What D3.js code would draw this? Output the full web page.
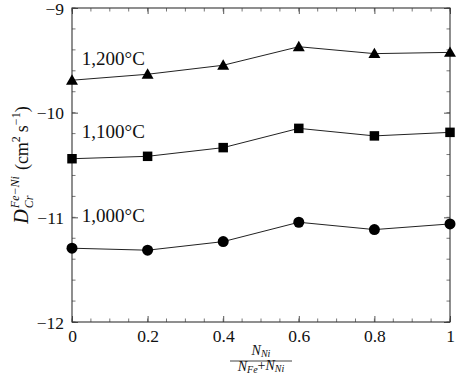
<!DOCTYPE html>
<html>
<head>
<meta charset="utf-8">
<title>D Cr</title>
<script src="https://d3js.org/d3.v7.min.js"></script>
<style>
  body { margin: 0; background: #fff; }
  text { font-family: "Liberation Serif", "DejaVu Serif", serif; fill: #111; }
</style>
</head>
<body>
<script>
  var width = 457, height = 376;
  var margin = { left: 72, right: 7, top: 8, bottom: 54 };

  // data
  var xValues  = [0, 0.2, 0.4, 0.6, 0.8, 1];
  var t1200    = [-9.69, -9.633, -9.547, -9.37, -9.436, -9.424];
  var t1100    = [-10.44, -10.417, -10.334, -10.15, -10.222, -10.188];
  var t1000    = [-11.295, -11.314, -11.232, -11.047, -11.117, -11.063];
  var seriesLabels = ["1,200\u00B0C", "1,100\u00B0C", "1,000\u00B0C"];
  var xTicks   = [0, 0.2, 0.4, 0.6, 0.8, 1];
  var yTicks   = [-12, -11, -10, -9];

  var svg = d3.select("body").append("svg")
    .attr("width", width).attr("height", height);

  var xScale = d3.scaleLinear().domain([0, 1]).range([margin.left, width - margin.right]);
  var yScale = d3.scaleLinear().domain([-12, -9]).range([height - margin.bottom, margin.top]);

  var x0 = xScale.range()[0], x1 = xScale.range()[1];
  var y0 = yScale.range()[0], y1 = yScale.range()[1];

  var xMinor = d3.range(0, 1.0001, 0.05).map(v => +v.toFixed(2));
  var yMinor = d3.range(-12, -8.999, 0.2).map(v => +v.toFixed(1));

  var tickCol = "#555";

  // bottom axis + top mirror
  var gx = svg.append("g").attr("transform", "translate(0," + y0 + ")")
    .call(d3.axisBottom(xScale).tickValues(xTicks).tickSize(-6).tickPadding(5)
      .tickFormat(d => d === 0 || d === 1 ? d3.format("d")(d) : d3.format(".1f")(d)));
  var gxt = svg.append("g").attr("transform", "translate(0," + y1 + ")")
    .call(d3.axisTop(xScale).tickValues(xTicks).tickSize(-6).tickFormat(""));
  // left axis + right mirror
  var gy = svg.append("g").attr("transform", "translate(" + x0 + ",0)")
    .call(d3.axisLeft(yScale).tickValues(yTicks).tickSize(-6).tickPadding(8)
      .tickFormat(d => "\u2212" + Math.abs(d)));
  var gyr = svg.append("g").attr("transform", "translate(" + x1 + ",0)")
    .call(d3.axisRight(yScale).tickValues(yTicks).tickSize(-6).tickFormat(""));

  [gx, gxt, gy, gyr].forEach(function (g) {
    g.select(".domain").remove();
    g.selectAll("line").attr("stroke", tickCol);
    g.selectAll("text").style("font-size", "17.5px").attr("fill", "#111");
  });
  gx.selectAll("text").attr("dy", "0.85em");
  gy.selectAll("text").attr("dy", "0.36em");

  // minor ticks
  var minor = svg.append("g").attr("stroke", tickCol).attr("stroke-width", 0.8);
  minor.selectAll(".mxb").data(xMinor).join("line")
    .attr("x1", d => xScale(d)).attr("x2", d => xScale(d)).attr("y1", y0).attr("y2", y0 - 3.5);
  minor.selectAll(".mxt").data(xMinor).join("line")
    .attr("x1", d => xScale(d)).attr("x2", d => xScale(d)).attr("y1", y1).attr("y2", y1 + 3.5);
  minor.selectAll(".myl").data(yMinor).join("line")
    .attr("y1", d => yScale(d)).attr("y2", d => yScale(d)).attr("x1", x0).attr("x2", x0 + 3.5);
  minor.selectAll(".myr").data(yMinor).join("line")
    .attr("y1", d => yScale(d)).attr("y2", d => yScale(d)).attr("x1", x1).attr("x2", x1 - 3.5);

  // frame
  svg.append("rect").attr("x", x0).attr("y", y1).attr("width", x1 - x0).attr("height", y0 - y1)
    .attr("fill", "none").attr("stroke", "#333").attr("stroke-width", 1.1);

  var line = d3.line().x((d, i) => xScale(xValues[i])).y(d => yScale(d));
  var allSeries = [t1200, t1100, t1000];
  var symbols = [d3.symbolTriangle, d3.symbolSquare, d3.symbolCircle];
  var symSizes = [62, 90, 95];

  allSeries.forEach(function (s, k) {
    svg.append("path").datum(s).attr("d", line)
      .attr("fill", "none").attr("stroke", "#222").attr("stroke-width", 1);
    svg.selectAll(".pt" + k).data(s).join("path")
      .attr("transform", (d, i) => "translate(" + xScale(xValues[i]) + "," + (yScale(d) + (k === 0 ? 1 : 0)) + ")")
      .attr("d", d3.symbol().type(symbols[k]).size(symSizes[k]))
      .attr("fill", "#000");
  });

  // series labels
  var labelY = [-9.545, -10.24, -11.044];
  svg.selectAll(".slab").data(seriesLabels).join("text")
    .attr("x", xScale(0.026)).attr("y", (d, i) => yScale(labelY[i]))
    .style("font-size", "19px")
    .text(d => d);

  // y axis label, built piece by piece in a rotated group
  var yl = svg.append("g").attr("transform", "translate(28," + ((y0 + y1) / 2) + ") rotate(-90)");
  var parts = [];
  var cur = 0;
  function piece(txt, size, italic, dy) {
    var t = yl.append("text").attr("x", cur).attr("y", dy)
      .style("font-size", size + "px").style("font-style", italic ? "italic" : "normal").text(txt);
    parts.push(t);
    return t.node().getComputedTextLength();
  }
  cur += piece("D", 20, true, 0) + 1;
  var wSup = piece("Fe\u2212Ni", 12, true, -9);
  var wSub = piece("Cr", 12, true, 5);
  cur += Math.max(wSup, wSub) + 6;
  cur += piece("(cm", 18, false, 0);
  cur += piece("2", 12, false, -8) + 4;
  cur += piece("s", 18, false, 0);
  cur += piece("\u22121", 12, false, -8);
  cur += piece(")", 18, false, 0);
  var shift = -cur / 2;
  parts.forEach(p => p.attr("x", +p.attr("x") + shift));

  // x axis label (fraction)
  var cx = (x0 + x1) / 2;
  var num = svg.append("text").attr("x", cx).attr("y", 355).attr("text-anchor", "middle")
    .style("font-size", "14px").style("font-style", "italic");
  num.append("tspan").text("N");
  num.append("tspan").attr("dy", "0.2em").style("font-size", "10px").text("Ni");
  svg.append("line").attr("x1", cx - 31).attr("x2", cx + 31).attr("y1", 361).attr("y2", 361)
    .attr("stroke", "#111").attr("stroke-width", 0.8);
  var den = svg.append("text").attr("x", cx).attr("y", 371).attr("text-anchor", "middle")
    .style("font-size", "14px").style("font-style", "italic");
  den.append("tspan").text("N");
  den.append("tspan").attr("dy", "0.2em").style("font-size", "10px").text("Fe");
  den.append("tspan").attr("dy", "-0.2em").style("font-style", "normal").text("+");
  den.append("tspan").text("N");
  den.append("tspan").attr("dy", "0.2em").style("font-size", "10px").text("Ni");
</script>
</body>
</html>
